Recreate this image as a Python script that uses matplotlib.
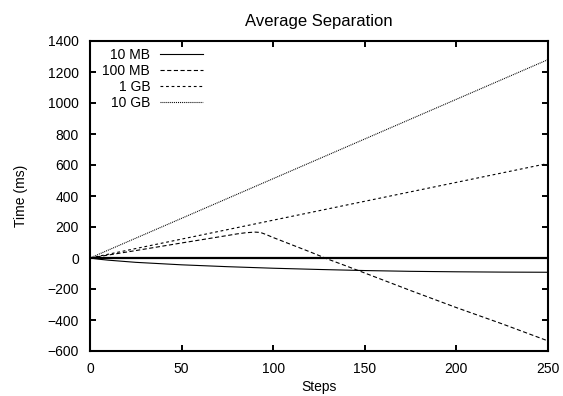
import matplotlib
matplotlib.use("Agg")
import matplotlib.pyplot as plt

plt.rcParams["font.family"] = ["Liberation Sans", "DejaVu Sans"]
plt.rcParams["lines.scale_dashes"] = False

# values
steps_10mb = [0, 5, 10, 25, 50, 75, 100, 125, 150, 175, 200, 225, 250]
time_10mb = [0, -8, -14, -28, -44, -56, -66, -74, -81, -86, -89, -91, -92]

steps_100mb = [0, 25, 50, 75, 80, 85, 90, 93, 96, 100, 110, 120, 130,
               140, 150, 175, 200, 225, 250]
time_100mb = [0, 48, 97, 145, 155, 163, 167, 165, 152, 132, 86, 40, -8,
              -52, -97, -210, -320, -425, -535]

steps_1gb = [0, 250]
time_1gb = [0, 610]

steps_10gb = [0, 250]
time_10gb = [0, 1280]

labels = ["10 MB", "100 MB", "1 GB", "10 GB"]
x_ticks = [0, 50, 100, 150, 200, 250]
y_ticks = [-600, -400, -200, 0, 200, 400, 600, 800, 1000, 1200, 1400]

fig = plt.figure(figsize=(5.63, 3.96), dpi=100)
ax = fig.add_axes([90 / 563, 45 / 396, 458 / 563, 310 / 396])

lw = 0.8
ax.plot(steps_10mb, time_10mb, color="black", lw=lw, label=labels[0])
ax.plot(steps_100mb, time_100mb, color="black", lw=lw,
        linestyle=(0, (3.0, 1.8)), label=labels[1])
ax.plot(steps_1gb, time_1gb, color="black", lw=lw,
        linestyle=(0, (2.0, 2.0)), label=labels[2])
ax.plot(steps_10gb, time_10gb, color="black", lw=lw,
        linestyle=(0, (0.7, 0.7)), label=labels[3])

ax.axhline(0, color="black", lw=1.6, zorder=1)

ax.set_xlim(0, 250)
ax.set_ylim(-600, 1400)
ax.set_xticks(x_ticks)
ax.set_yticks(y_ticks)
ax.tick_params(direction="in", length=4.5, width=1.4, labelsize=10,
               top=True, right=True, color="black")
ax.tick_params(axis="y", pad=8)
ax.tick_params(axis="x", pad=8)
for sp in ax.spines.values():
    sp.set_linewidth(1.5)

ax.set_title("Average Separation", fontsize=12, pad=11)
ax.set_xlabel("Steps", fontsize=10, labelpad=3)
ax.set_ylabel("Time (ms)", fontsize=10, labelpad=14)

leg = ax.legend(loc="upper right", bbox_to_anchor=(113 / 458, 303 / 310),
                frameon=False, markerfirst=False, fontsize=10,
                handlelength=3.1, handletextpad=0.7, labelspacing=0.15,
                borderpad=0, borderaxespad=0)

fig.savefig("out.png", dpi=100)
